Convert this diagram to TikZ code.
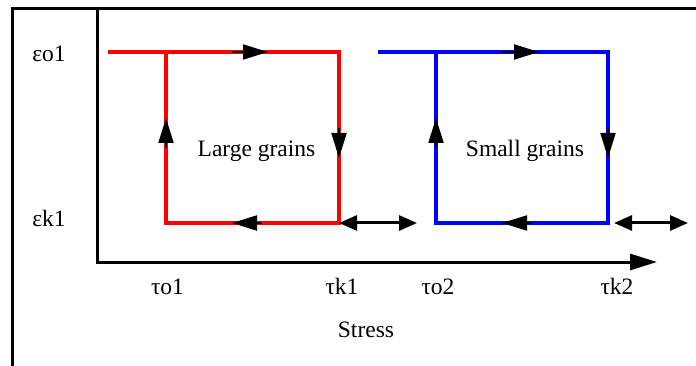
\documentclass[tikz,border=0pt]{standalone}
\usepackage{fontspec}
\setmainfont{Liberation Serif}
\usetikzlibrary{arrows.meta}
\begin{document}
\begin{tikzpicture}[x=1pt,y=-1pt,
  frameline/.style={line width=3pt,black},
  axisline/.style={line width=3pt,black,-{Triangle[length=27pt,width=16pt]}},
  loopline/.style={line width=4.5pt,line join=miter,line cap=butt},
  midarrow/.style={line width=2pt,black,-{Triangle[length=25pt,width=15pt]}},
  dblarrow/.style={line width=3pt,black,{Triangle[length=18pt,width=15pt]}-{Triangle[length=18pt,width=15pt]}},
  lbl/.style={font=\fontsize{23.5}{27}\selectfont,anchor=base,inner sep=0pt}]
\useasboundingbox (0,0) rectangle (696,366);
% frame
\coordinate (fbl) at (12,368);
\coordinate (ftl) at (12,9);
\coordinate (ftr) at (698,9);
\draw[frameline] (fbl) -- (ftl) -- (ftr);
% axes
\coordinate (ytop) at (97,9);
\coordinate (O) at (97,262);
\coordinate (xend) at (657,262);
\draw[axisline,line join=miter] (ytop) -- (O) -- (xend);
% red loop
\coordinate (r0) at (108,52);
\coordinate (rA) at (166,52);
\coordinate (rB) at (339,52);
\coordinate (rC) at (339,223);
\coordinate (rD) at (166,223);
\draw[loopline,red] (r0) -- (rB) -- (rC) -- (rD) -- (rA);
% blue loop
\coordinate (b0) at (378,52);
\coordinate (bA) at (436,52);
\coordinate (bB) at (608,52);
\coordinate (bC) at (608,223);
\coordinate (bD) at (436,223);
\draw[loopline,blue] (b0) -- (bB) -- (bC) -- (bD) -- (bA);
% direction arrows red
\coordinate (rt1) at (232,52); \coordinate (rt2) at (268,52);
\coordinate (rr1) at (339,128); \coordinate (rr2) at (339,158);
\coordinate (rb1) at (262,223); \coordinate (rb2) at (232,223);
\coordinate (rl1) at (166,148); \coordinate (rl2) at (166,118);
\draw[midarrow] (rt1) -- (rt2);
\draw[midarrow] (rr1) -- (rr2);
\draw[midarrow] (rb1) -- (rb2);
\draw[midarrow] (rl1) -- (rl2);
% direction arrows blue
\coordinate (bt1) at (501,52); \coordinate (bt2) at (539,52);
\coordinate (br1) at (608,128); \coordinate (br2) at (608,158);
\coordinate (bb1) at (531,223); \coordinate (bb2) at (502,223);
\coordinate (bl1) at (436,148); \coordinate (bl2) at (436,118);
\draw[midarrow] (bt1) -- (bt2);
\draw[midarrow] (br1) -- (br2);
\draw[midarrow] (bb1) -- (bb2);
\draw[midarrow] (bl1) -- (bl2);
% double arrows
\coordinate (rdE) at (417,223);
\coordinate (bdS) at (614,223);
\coordinate (bdE) at (688,223);
\draw[dblarrow] (rC) -- (rdE);
\draw[dblarrow] (bdS) -- (bdE);
% labels
\node[lbl] (eo1) at (49,62) {εo1};
\node[lbl] (ek1) at (49,227) {εk1};
\node[lbl] (to1) at (167.5,294) {τo1};
\node[lbl] (tk1) at (342,294) {τk1};
\node[lbl] (to2) at (438,294) {τo2};
\node[lbl] (tk2) at (617,294) {τk2};
\node[lbl] (stress) at (366,337) {Stress};
\node[lbl] (large) at (256.5,157) {Large grains};
\node[lbl] (small) at (525,157) {Small grains};
\end{tikzpicture}
\end{document}
